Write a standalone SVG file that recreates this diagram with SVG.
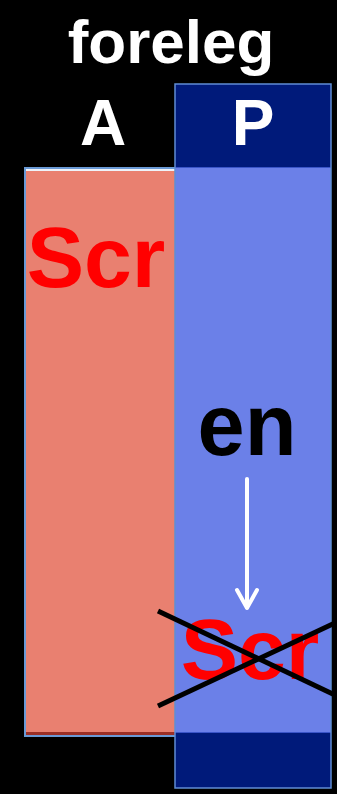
<svg xmlns="http://www.w3.org/2000/svg" width="337" height="794" viewBox="0 0 337 794">
<style>
.lbl{font-family:"Liberation Sans",Arial,sans-serif;font-weight:bold;text-anchor:middle}
.w{fill:#ffffff}
.red{fill:#ff0000}
.cross{stroke:#000000;stroke-width:5;stroke-linecap:butt}
</style>
<rect x="0" y="0" width="337" height="794" fill="#000000"/>
<g id="title"><text class="lbl w" x="171" y="63" font-size="62">foreleg</text></g>
<g id="labelA"><text class="lbl w" x="103" y="145" font-size="64">A</text></g>
<g id="columnA">
<rect x="25" y="168" width="152" height="568" fill="#eef3fa" stroke="#6a9ad6" stroke-width="2"/>
<rect x="26" y="171" width="150" height="561" fill="#e98070"/>
<rect x="26" y="732" width="150" height="3" fill="#9b2f26"/>
<text class="lbl red" x="96" y="287" font-size="86">Scr</text>
</g>
<g id="columnP">
<rect x="175" y="84" width="156" height="704" fill="#6b80e8" stroke="#5f8fd2" stroke-width="1.5"/>
<rect x="175.75" y="84.75" width="154.5" height="82.5" fill="#001a7a"/>
<rect x="175.75" y="733" width="154.5" height="54.25" fill="#001a7a"/>
<line x1="175.75" y1="167.5" x2="330.25" y2="167.5" stroke="#3a55c8" stroke-width="1"/>
<line x1="175.75" y1="732.5" x2="330.25" y2="732.5" stroke="#3a55c8" stroke-width="1"/>
<text class="lbl w" x="253" y="145" font-size="64">P</text>
<text class="lbl" x="247" y="455" font-size="87" fill="#000000" textLength="99" lengthAdjust="spacingAndGlyphs">en</text>
<text class="lbl red" x="250" y="679" font-size="86">Scr</text>
</g>
<g id="connectors">
<g fill="none" stroke="#ffffff" stroke-width="4" stroke-linecap="round" stroke-linejoin="round">
<line x1="247" y1="479" x2="247" y2="607"/>
<polyline points="237,590 247,608 257,590"/>
</g>
<line class="cross" x1="158" y1="611" x2="337" y2="696"/>
<line class="cross" x1="158" y1="706" x2="337" y2="622"/>
</g>
</svg>
